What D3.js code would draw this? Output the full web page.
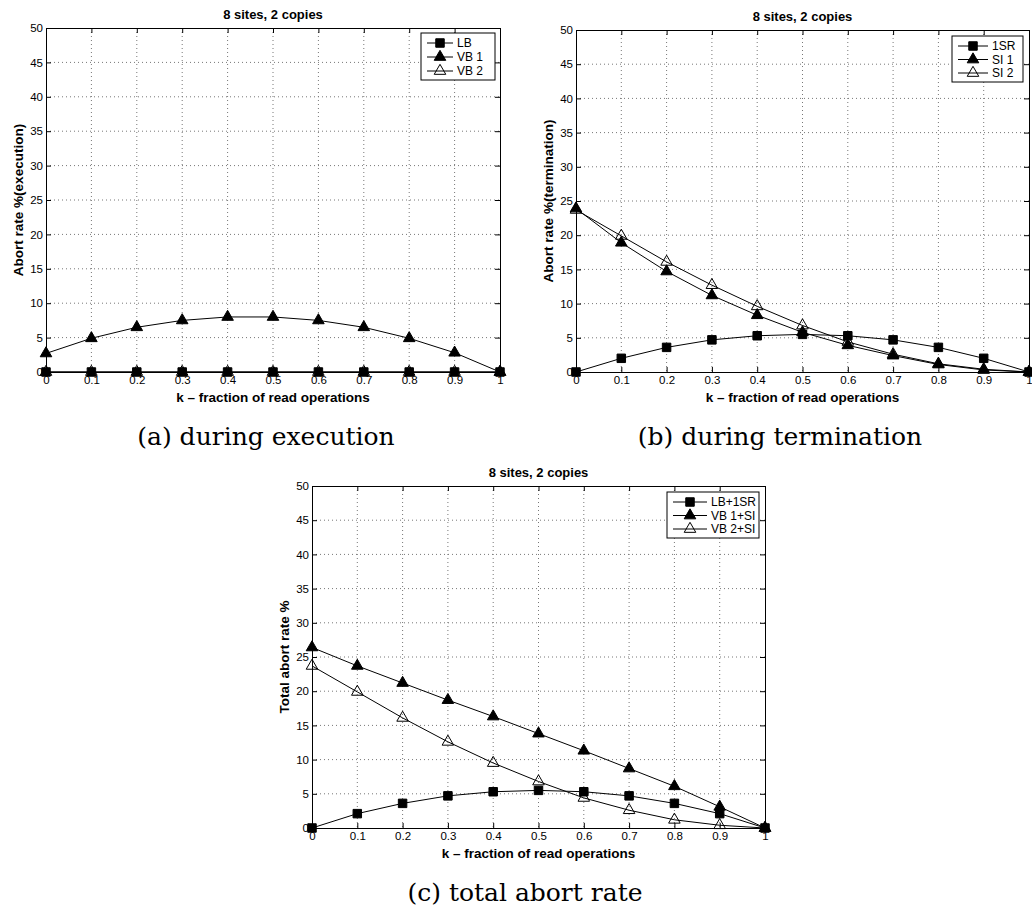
<!DOCTYPE html>
<html>
<head>
<meta charset="utf-8">
<script src="https://cdn.jsdelivr.net/npm/d3@7"></script>
<style>
  body { margin: 0; background: #fff; }
</style>
</head>
<body>
<script>
// data
var kValues = [0, 0.1, 0.2, 0.3, 0.4, 0.5, 0.6, 0.7, 0.8, 0.9, 1];
var xTickLabels = ["0", "0.1", "0.2", "0.3", "0.4", "0.5", "0.6", "0.7", "0.8", "0.9", "1"];
var yTicks = [0, 5, 10, 15, 20, 25, 30, 35, 40, 45, 50];

// (a) during execution
var lbExec  = [0, 0, 0, 0, 0, 0, 0, 0, 0, 0, 0];
var vb1Exec = [2.7, 4.9, 6.5, 7.5, 8.0, 8.0, 7.5, 6.5, 4.9, 2.8, 0];
var vb2Exec = [0, 0, 0, 0, 0, 0, 0, 0, 0, 0, 0];

// (b) during termination
var sr1Term = [0, 2.0, 3.6, 4.7, 5.3, 5.5, 5.3, 4.7, 3.6, 2.0, 0];
var si1Term = [23.9, 18.9, 14.7, 11.2, 8.3, 5.8, 3.9, 2.4, 1.1, 0.3, 0];
var si2Term = [23.7, 19.9, 16.1, 12.7, 9.6, 6.8, 4.4, 2.6, 1.2, 0.4, 0];

// (c) total abort rate
var lbSrTotal  = [0, 2.1, 3.6, 4.7, 5.3, 5.5, 5.3, 4.7, 3.6, 2.1, 0];
var vb1SiTotal = [26.4, 23.7, 21.2, 18.7, 16.3, 13.8, 11.3, 8.7, 6.1, 3.1, 0];
var vb2SiTotal = [23.7, 19.9, 16.1, 12.6, 9.5, 6.8, 4.4, 2.6, 1.2, 0.4, 0];

var titleText = "8 sites, 2 copies";
var xLabelText = "k \u2013 fraction of read operations";

var panels = [
  { left: 46, right: 500, top: 28, bottom: 372,
    yLabel: "Abort rate %(execution)",
    caption: "(a) during execution", capX: 266, capY: 445,
    legend: { x: 421, y: 33, w: 74, h: 47, line: 26 },
    series: [
      { name: "LB",   values: lbExec,  marker: "square" },
      { name: "VB 1", values: vb1Exec, marker: "triFilled" },
      { name: "VB 2", values: vb2Exec, marker: "triOpen" } ] },
  { left: 576, right: 1029, top: 30, bottom: 372,
    yLabel: "Abort rate %(termination)",
    caption: "(b) during termination", capX: 780, capY: 445,
    legend: { x: 952, y: 36, w: 71, h: 46, line: 30 },
    series: [
      { name: "1SR",  values: sr1Term, marker: "square" },
      { name: "SI 1", values: si1Term, marker: "triFilled" },
      { name: "SI 2", values: si2Term, marker: "triOpen" } ] },
  { left: 312, right: 765, top: 486, bottom: 828,
    yLabel: "Total abort rate %",
    caption: "(c) total abort rate", capX: 525, capY: 901,
    legend: { x: 667, y: 492, w: 92, h: 46, line: 34 },
    series: [
      { name: "LB+1SR",  values: lbSrTotal,  marker: "square" },
      { name: "VB 1+SI", values: vb1SiTotal, marker: "triFilled" },
      { name: "VB 2+SI", values: vb2SiTotal, marker: "triOpen" } ] }
];

var sansFont = "'Liberation Sans', Arial, Helvetica, sans-serif";
var serifFont = "'DejaVu Serif', serif";

var svg = d3.select("body").append("svg")
  .attr("width", 1032)
  .attr("height", 913)
  .style("background", "#fff");

function drawMarker(sel, kind) {
  if (kind === "square") {
    sel.attr("d", d3.symbol().type(d3.symbolSquare).size(72)())
      .attr("fill", "#000").attr("stroke", "#000");
  } else if (kind === "triFilled") {
    sel.attr("d", d3.symbol().type(d3.symbolTriangle).size(58)())
      .attr("fill", "#000").attr("stroke", "#000");
  } else {
    sel.attr("d", d3.symbol().type(d3.symbolTriangle).size(58)())
      .attr("fill", "none").attr("stroke", "#000").attr("stroke-width", 1);
  }
}

function styleAxis(g) {
  g.select(".domain").attr("stroke", "#000").attr("stroke-width", 1);
  g.selectAll(".tick line").attr("stroke", "#000");
  g.selectAll("text").attr("font-family", sansFont).attr("font-size", 11.5).attr("fill", "#000");
}

panels.forEach(function(p){
  var g = svg.append("g");
  var x = d3.scaleLinear().domain([0, 1]).range([p.left, p.right]);
  var y = d3.scaleLinear().domain([0, 50]).range([p.bottom, p.top]);

  // dotted grid
  g.append("g").selectAll("line").data(kValues.slice(1, -1)).enter().append("line")
    .attr("x1", function(d){ return x(d); }).attr("x2", function(d){ return x(d); })
    .attr("y1", p.top).attr("y2", p.bottom)
    .attr("stroke", "#777").attr("stroke-width", 1).attr("stroke-dasharray", "1,3");
  g.append("g").selectAll("line").data(yTicks.slice(1, -1)).enter().append("line")
    .attr("y1", function(d){ return y(d); }).attr("y2", function(d){ return y(d); })
    .attr("x1", p.left).attr("x2", p.right)
    .attr("stroke", "#777").attr("stroke-width", 1).attr("stroke-dasharray", "1,3");

  // box axes, ticks pointing inward
  g.append("g").attr("transform", "translate(0," + p.bottom + ")")
    .call(d3.axisBottom(x).tickValues(kValues).tickFormat(function(d, i){ return xTickLabels[i]; })
      .tickSizeInner(-5).tickSizeOuter(0).tickPadding(4))
    .call(styleAxis);
  g.append("g").attr("transform", "translate(0," + p.top + ")")
    .call(d3.axisTop(x).tickValues(kValues).tickFormat("").tickSizeInner(-5).tickSizeOuter(0))
    .call(styleAxis);
  g.append("g").attr("transform", "translate(" + p.left + ",0)")
    .call(d3.axisLeft(y).tickValues(yTicks).tickSizeInner(-5).tickSizeOuter(0).tickPadding(3))
    .call(styleAxis);
  g.append("g").attr("transform", "translate(" + p.right + ",0)")
    .call(d3.axisRight(y).tickValues(yTicks).tickFormat("").tickSizeInner(-5).tickSizeOuter(0))
    .call(styleAxis);

  // series
  var line = d3.line()
    .x(function(d, i){ return x(kValues[i]); })
    .y(function(d){ return y(d); });
  p.series.forEach(function(s){
    g.append("path").datum(s.values)
      .attr("d", line).attr("fill", "none").attr("stroke", "#000").attr("stroke-width", 1);
    g.append("g").selectAll("path").data(s.values).enter().append("path")
      .attr("transform", function(d, i){ return "translate(" + x(kValues[i]) + "," + y(d) + ")"; })
      .call(drawMarker, s.marker);
  });

  // title and axis labels
  g.append("text").attr("x", (p.left + p.right) / 2).attr("y", p.top - 9)
    .attr("text-anchor", "middle").attr("font-family", sansFont)
    .attr("font-weight", "bold").attr("font-size", 13).text(titleText);
  g.append("text").attr("x", (p.left + p.right) / 2).attr("y", p.bottom + 30)
    .attr("text-anchor", "middle").attr("font-family", sansFont)
    .attr("font-weight", "bold").attr("font-size", 13.5).text(xLabelText);
  g.append("text")
    .attr("transform", "translate(" + (p.left - 23) + "," + ((p.top + p.bottom) / 2) + ") rotate(-90)")
    .attr("text-anchor", "middle").attr("font-family", sansFont)
    .attr("font-weight", "bold").attr("font-size", 13.5).text(p.yLabel);

  // legend
  var lg = p.legend;
  var leg = g.append("g").attr("transform", "translate(" + lg.x + "," + lg.y + ")");
  leg.append("rect").attr("width", lg.w).attr("height", lg.h)
    .attr("fill", "#fff").attr("stroke", "#000").attr("stroke-width", 1);
  var rowY = d3.scalePoint().domain(p.series.map(function(s){ return s.name; })).range([10, lg.h - 9]);
  p.series.forEach(function(s){
    var ry = rowY(s.name);
    leg.append("line").attr("x1", 6).attr("x2", 6 + lg.line).attr("y1", ry).attr("y2", ry)
      .attr("stroke", "#000").attr("stroke-width", 1);
    leg.append("path").attr("transform", "translate(" + (6 + lg.line / 2) + "," + ry + ")")
      .call(drawMarker, s.marker);
    leg.append("text").attr("x", 10 + lg.line).attr("y", ry).attr("dy", "0.35em")
      .attr("font-family", sansFont).attr("font-size", 12).text(s.name);
  });

  // caption
  svg.append("text").attr("x", p.capX).attr("y", p.capY)
    .attr("text-anchor", "middle").attr("font-family", serifFont)
    .attr("font-size", 25).attr("fill", "#000").text(p.caption);
});
</script>
</body>
</html>
